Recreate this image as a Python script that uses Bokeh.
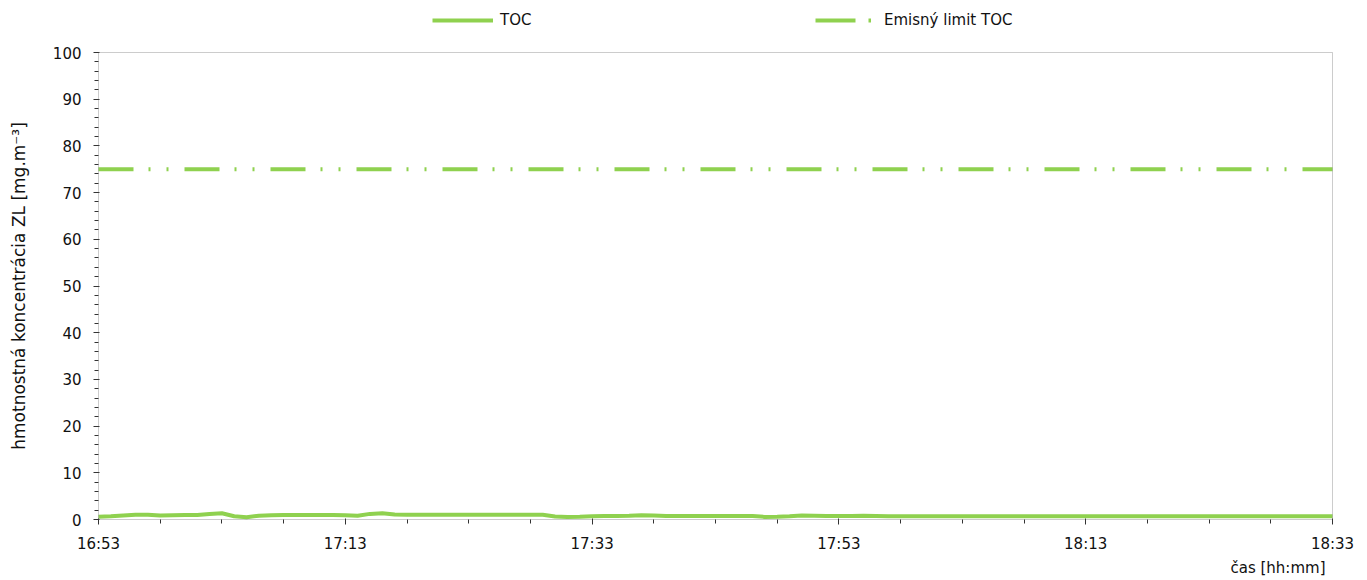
import math
from bokeh.plotting import figure
from bokeh.models import FixedTicker, Legend, LegendItem, Label, Range1d, BoxAnnotation
from bokeh.embed import file_html
from bokeh.resources import INLINE

# ---- data ----
x_tick_minutes = [0, 20, 40, 60, 80, 100]
x_tick_labels = ["16:53", "17:13", "17:33", "17:53", "18:13", "18:33"]
y_ticks = [0, 10, 20, 30, 40, 50, 60, 70, 80, 90, 100]

# TOC value per minute from 16:53 to 18:33
toc_values = [
    0.6, 0.7, 0.85, 1.0, 1.0, 0.85, 0.9, 0.95, 0.95, 1.2,
    1.35, 0.7, 0.5, 0.8, 0.9, 0.95, 0.95, 0.95, 0.95, 0.95,
    0.9, 0.8, 1.2, 1.35, 1.05, 1.0, 1.0, 1.0, 1.0, 1.0,
    1.0, 1.0, 1.0, 1.0, 1.0, 1.0, 1.0, 0.65, 0.55, 0.6,
    0.7, 0.75, 0.75, 0.8, 0.9, 0.85, 0.75, 0.75, 0.75, 0.75,
    0.75, 0.75, 0.75, 0.75, 0.55, 0.6, 0.7, 0.85, 0.8, 0.75,
    0.75, 0.75, 0.8, 0.75, 0.7, 0.7, 0.7, 0.7, 0.7, 0.7,
    0.7, 0.7, 0.7, 0.7, 0.7, 0.7, 0.7, 0.7, 0.7, 0.7,
    0.7, 0.7, 0.7, 0.7, 0.7, 0.7, 0.7, 0.7, 0.7, 0.7,
    0.7, 0.7, 0.7, 0.7, 0.7, 0.7, 0.7, 0.7, 0.7, 0.7,
    0.7,
]
toc_minutes = list(range(len(toc_values)))

limit_minutes = [0, 100]
limit_values = [75, 75]

GREEN = "#8fd14f"
FONT = "DejaVu Sans"

# ---- geometry: the frame covers the whole canvas; plot box sits inside ----
W, H = 1367, 580
BOX_L, BOX_R, BOX_T, BOX_B = 98, 1332, 52, 519       # pixel edges of the plot box
XMIN, XMAX = 0, 100                                    # minutes
YMIN, YMAX = 0, 100
sx = (BOX_R - BOX_L) / (XMAX - XMIN)
sy = (BOX_B - BOX_T) / (YMAX - YMIN)
x_range = Range1d(XMIN - BOX_L / sx, XMAX + (W - BOX_R) / sx)
y_range = Range1d(YMIN - (H - BOX_B) / sy, YMAX + BOX_T / sy)

p = figure(width=W, height=H, output_backend="svg", toolbar_location=None,
           x_range=x_range, y_range=y_range,
           min_border=0, min_border_left=0, min_border_right=0,
           min_border_top=0, min_border_bottom=0)
p.xgrid.visible = False
p.ygrid.visible = False
p.background_fill_color = "white"
p.border_fill_color = "white"
p.outline_line_color = None

# plot box border
p.add_layout(BoxAnnotation(left=XMIN, right=XMAX, bottom=YMIN, top=YMAX,
                           fill_alpha=0, line_color="#555555", line_width=1))

r_limit = p.line(limit_minutes, limit_values, line_color=GREEN, line_width=4,
                 line_dash="35 15 2 16 2 16")
r_toc = p.line(toc_minutes, toc_values, line_color=GREEN, line_width=4)

# legend proxies (no data, only legend glyphs)
proxy_toc = p.line([float("nan")], [float("nan")], line_color=GREEN, line_width=4)
proxy_lim = p.line([float("nan")], [float("nan")], line_color=GREEN, line_width=4,
                   line_dash="40 13 3 60")

common = dict(glyph_height=16, label_height=16, padding=0, margin=0,
              border_line_color=None, background_fill_alpha=0,
              label_text_font=FONT, label_text_font_size="15px",
              label_text_color="#111111")
leg1 = Legend(items=[LegendItem(label="TOC", renderers=[proxy_toc])],
              location=(432, H - 29), glyph_width=61, label_standoff=7, **common)
leg2 = Legend(items=[LegendItem(label="Emisný limit TOC", renderers=[proxy_lim])],
              location=(815, H - 29), glyph_width=56, label_standoff=13, **common)
p.add_layout(leg1, "center")
p.add_layout(leg2, "center")

# axes, pinned to the plot box edges
p.xaxis.fixed_location = YMIN
p.yaxis.fixed_location = XMIN
p.xaxis.ticker = FixedTicker(ticks=x_tick_minutes, minor_ticks=list(range(0, 101, 5)))
p.xaxis.major_label_overrides = {m: l for m, l in zip(x_tick_minutes, x_tick_labels)}
p.yaxis.ticker = FixedTicker(ticks=y_ticks, minor_ticks=list(range(0, 101, 2)))

for ax in (p.xaxis[0], p.yaxis[0]):
    ax.axis_line_color = None
    ax.major_tick_line_color = "#333333"
    ax.minor_tick_line_color = "#333333"
    ax.major_tick_out = 5
    ax.major_tick_in = 1
    ax.minor_tick_out = 4
    ax.minor_tick_in = 0
    ax.major_label_text_font = FONT
    ax.major_label_text_font_size = "15px"
    ax.major_label_text_color = "#111111"

p.xaxis.major_label_standoff = 10
p.yaxis.major_label_standoff = 12

# axis titles
p.add_layout(Label(x=XMIN + (18 - BOX_L) / sx, y=(YMIN + YMAX) / 2,
                   text="hmotnostná koncentrácia ZL [mg.m⁻³]", angle=math.pi / 2,
                   text_align="center", text_baseline="middle", text_font=FONT,
                   text_font_size="17px", text_color="#111111"))
p.add_layout(Label(x=XMAX - 7 / sx, y=YMIN - 48 / sy, text="čas [hh:mm]",
                   text_align="right", text_baseline="middle", text_font=FONT,
                   text_font_size="15px", text_color="#111111"))

open("out.html", "w").write(file_html(p, INLINE))
